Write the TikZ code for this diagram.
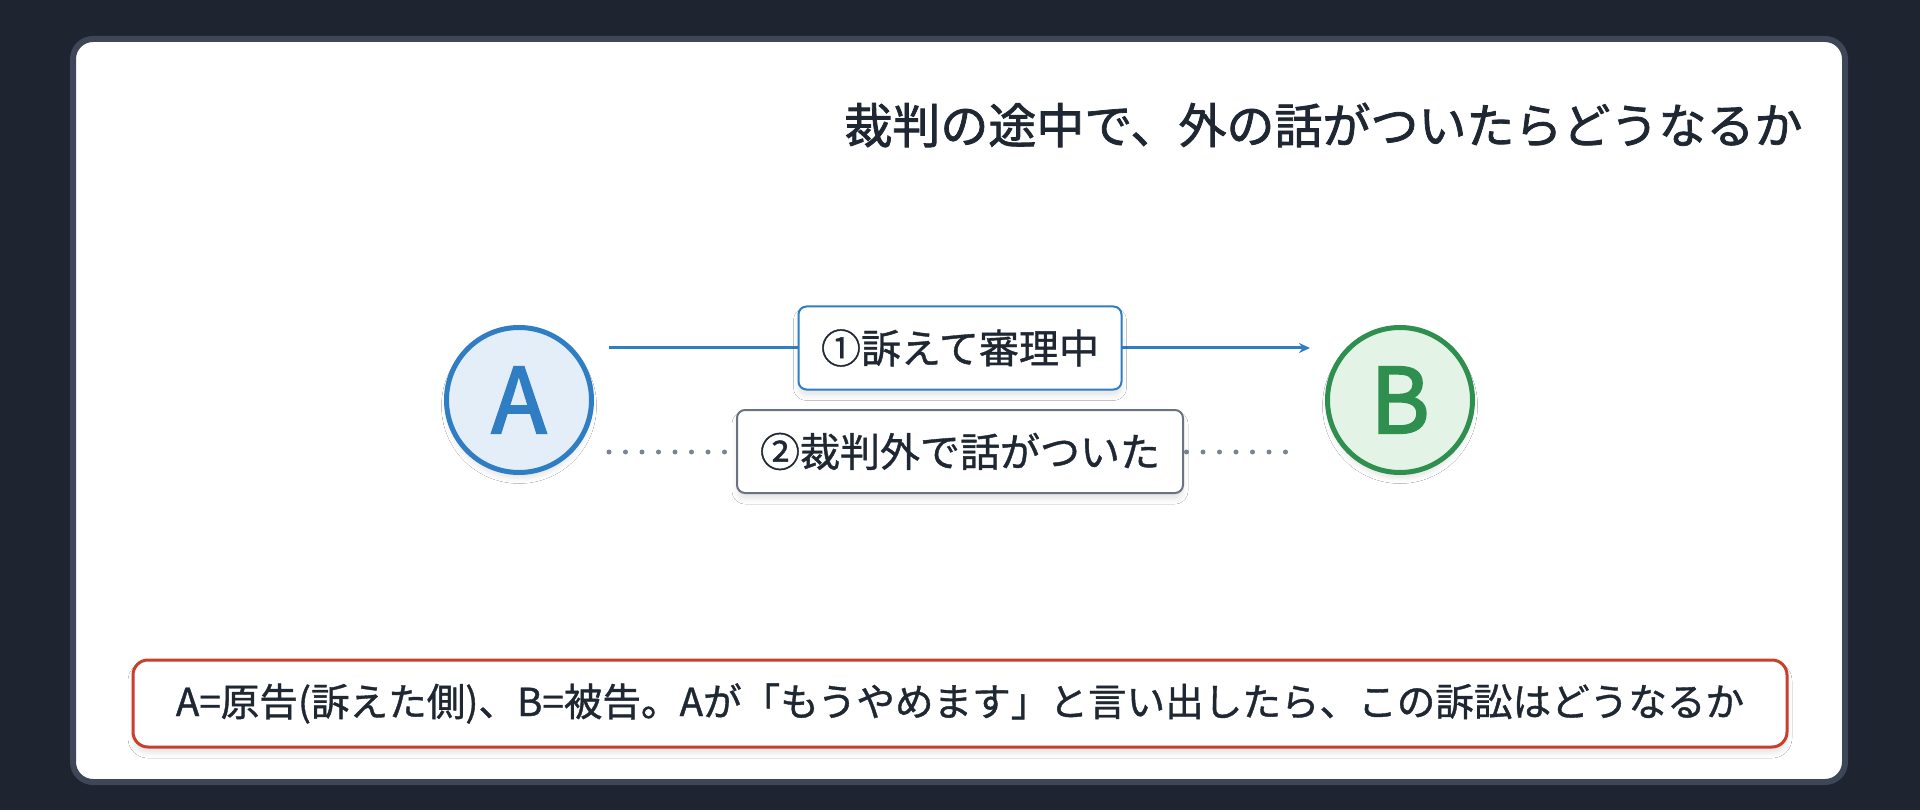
\documentclass[tikz,border=0pt]{standalone}
\usepackage{fontspec}
\setmainfont{Noto Sans CJK JP}
\newfontfamily\semifont[FakeBold=1.6]{Noto Sans CJK JP}
\newfontfamily\medfont[FakeBold=1.0]{Noto Sans CJK JP}
\newfontfamily\letterfont[FakeBold=2.5]{Noto Sans CJK JP}
\usetikzlibrary{arrows.meta,shadows.blur}
\definecolor{bgdark}{HTML}{1E2430}
\definecolor{panelline}{HTML}{3D4757}
\definecolor{ink}{HTML}{1F2733}
\definecolor{ablue}{HTML}{2F7EC4}
\definecolor{abluefill}{HTML}{E4EEF9}
\definecolor{bgreen}{HTML}{2E8F4E}
\definecolor{bgreenfill}{HTML}{E3F4E6}
\definecolor{grayline}{HTML}{6B7280}
\definecolor{dotgray}{HTML}{7A8494}
\definecolor{redline}{HTML}{C8402C}
\tikzset{
  softshadow/.style={blur shadow={shadow xshift=0pt,shadow yshift=-6pt,shadow blur radius=5pt,shadow opacity=10}},
  party/.style={circle,minimum size=145pt,line width=5pt,inner sep=0pt,softshadow,
    font=\fontsize{90}{90}\letterfont},
  tag/.style={rounded corners=8pt,fill=white,line width=2pt,inner sep=0pt,minimum height=83pt,
    text=ink,font=\fontsize{40}{48}\medfont,softshadow},
  flow/.style={draw=ablue,line width=3pt,-{Stealth[length=11pt,width=10pt]}},
  dotline/.style={draw=dotgray,line width=5pt,line cap=round,dash pattern=on 0pt off 16.5pt},
}
\begin{document}
\begin{tikzpicture}[x=1pt,y=-1pt]
\useasboundingbox (0,0) rectangle (1920,810);
\fill[bgdark] (0,0) rectangle (1920,810);
\draw[panelline,line width=6pt,fill=white,rounded corners=20pt] (73,39) rectangle (1845,782);

\node[anchor=east,text=ink,font=\fontsize{48}{56}\semifont] (title) at (1806,125) {裁判の途中で、外の話がついたらどうなるか};

\node[party,draw=ablue,fill=abluefill,text=ablue] (A) at (519,400) {A};
\node[party,draw=bgreen,fill=bgreenfill,text=bgreen] (B) at (1400,400) {B};

\draw[flow] ([xshift=15pt,yshift=52pt]A.east) -- ([xshift=-15pt,yshift=52pt]B.west);
\draw[dotline] ([xshift=15pt,yshift=-52pt]A.east) -- ([xshift=-23pt,yshift=-52pt]B.west);

\node[tag,draw=ablue,minimum width=323pt] (t1) at (960,348) {①訴えて審理中};
\node[tag,draw=grayline,minimum width=446pt] (t2) at (960,451.5) {②裁判外で話がついた};

\node[rounded corners=15pt,draw=redline,line width=3pt,fill=white,minimum width=1654pt,minimum height=87pt,
  inner sep=0pt,text=ink,font=\fontsize{38.6}{46}\medfont,softshadow] (note) at (960,703.5)
  {A=原告(訴えた側)、B=被告。Aが「もうやめます」と言い出したら、この訴訟はどうなるか};
\end{tikzpicture}
\end{document}
